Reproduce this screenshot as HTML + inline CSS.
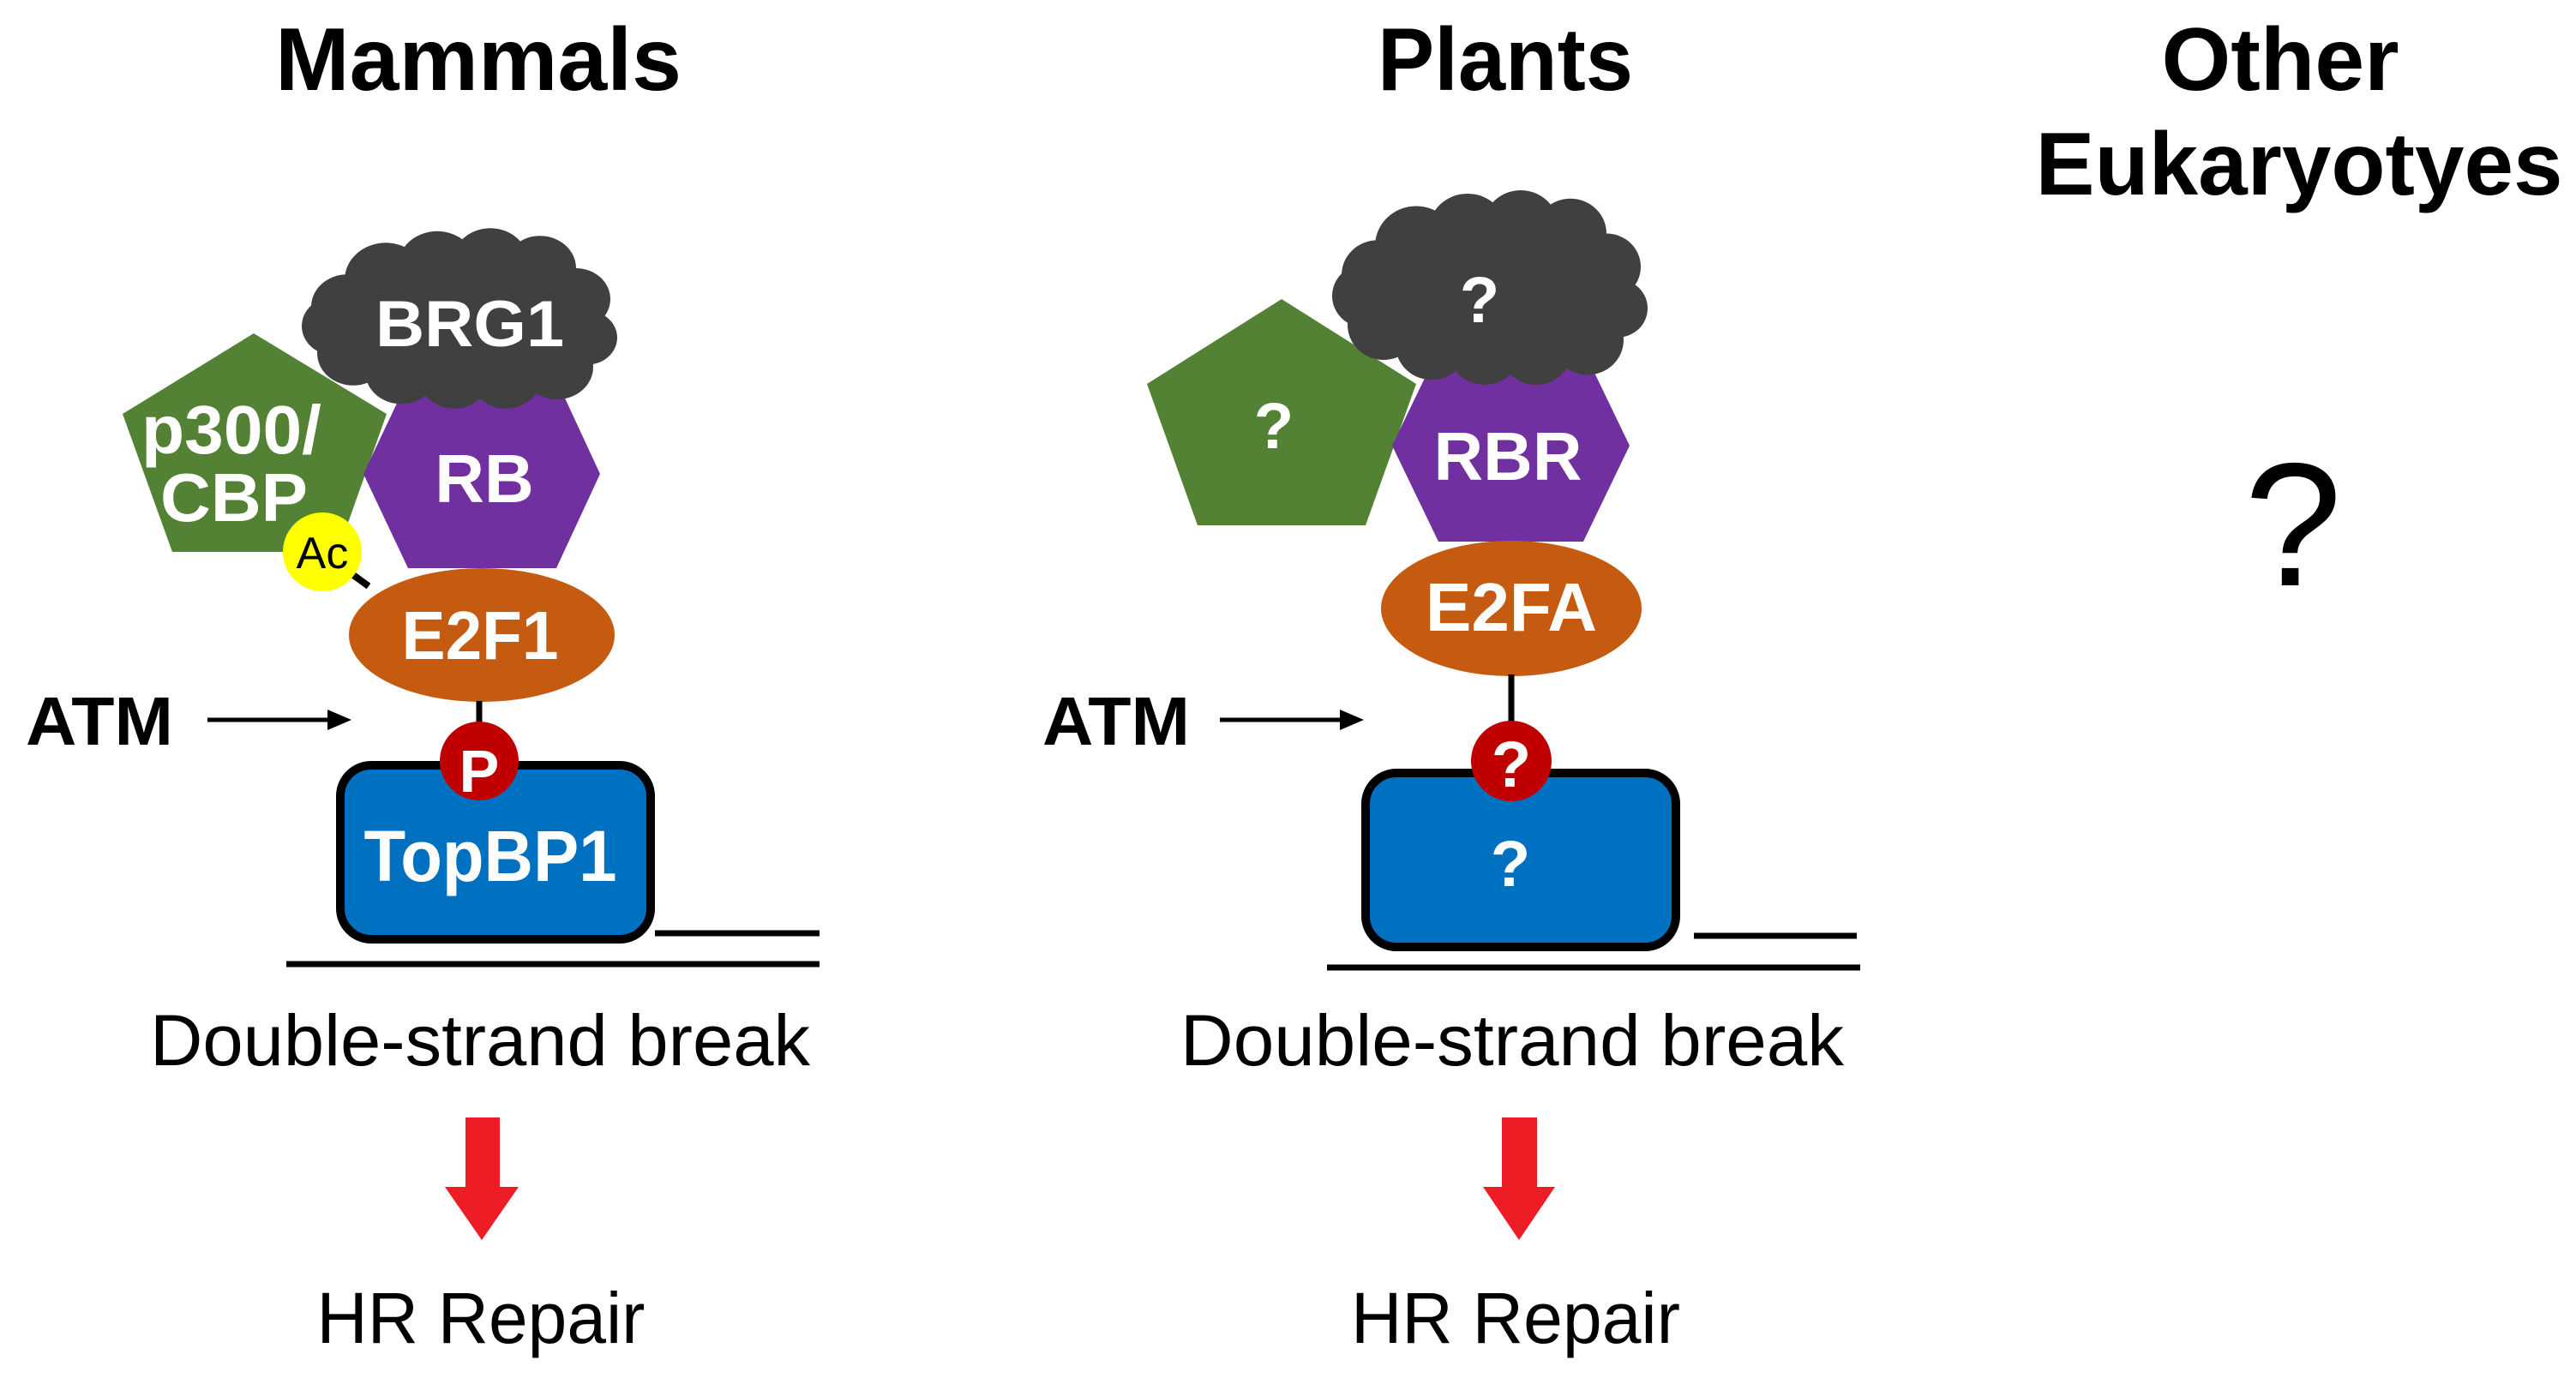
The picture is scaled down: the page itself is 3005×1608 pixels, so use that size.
<!DOCTYPE html>
<html><head><meta charset="utf-8"><style>
html,body{margin:0;padding:0;background:#fff;}
svg{display:block;}
text{font-family:"Liberation Sans",Arial,sans-serif;}
.w{fill:#fff;font-weight:bold;text-anchor:middle;}
</style></head><body>
<svg width="3005" height="1608" viewBox="0 0 3005 1608" xmlns="http://www.w3.org/2000/svg">
<defs>
<g id="cloud" fill="#404040">
 <ellipse cx="185" cy="120" rx="140" ry="75"/>
 <circle cx="55" cy="100" r="42"/>
 <circle cx="100" cy="65" r="48"/>
 <circle cx="160" cy="48" r="46"/>
 <circle cx="222" cy="42" r="44"/>
 <circle cx="280" cy="50" r="42"/>
 <circle cx="322" cy="90" r="40"/>
 <circle cx="335" cy="140" r="35"/>
 <circle cx="300" cy="178" r="42"/>
 <circle cx="240" cy="190" r="42"/>
 <circle cx="180" cy="190" r="42"/>
 <circle cx="118" cy="184" r="42"/>
 <circle cx="62" cy="160" r="42"/>
 <circle cx="40" cy="125" r="38"/>
</g>
</defs>

<text x="558" y="105" font-size="104" font-weight="bold" text-anchor="middle" textLength="474" lengthAdjust="spacingAndGlyphs">Mammals</text>
<text x="1756" y="105" font-size="104" font-weight="bold" text-anchor="middle" textLength="298" lengthAdjust="spacingAndGlyphs">Plants</text>
<text x="2660" y="105" font-size="104" font-weight="bold" text-anchor="middle" textLength="277" lengthAdjust="spacingAndGlyphs">Other</text>
<text x="2682" y="227" font-size="104" font-weight="bold" text-anchor="middle" textLength="615" lengthAdjust="spacingAndGlyphs">Eukaryotyes</text>
<text x="2675" y="683" font-size="205" text-anchor="middle">?</text>

<!-- Mammals -->
<polygon points="296,389 451,483 394,644 201,644 143,483" fill="#548235"/>
<polygon points="476,443 649,443 700,553 649,663 476,663 424,553" fill="#7030A0"/>
<use href="#cloud" transform="translate(350,268) scale(1.0,0.9)"/>
<text class="w" x="548" y="404" font-size="76" textLength="220" lengthAdjust="spacingAndGlyphs">BRG1</text>
<text class="w" x="270" y="529" font-size="80" textLength="210" lengthAdjust="spacingAndGlyphs">p300/</text>
<text class="w" x="273" y="608" font-size="80" textLength="172" lengthAdjust="spacingAndGlyphs">CBP</text>
<text class="w" x="565" y="586" font-size="80">RB</text>
<line x1="390" y1="655" x2="430" y2="684" stroke="#000" stroke-width="8"/>
<ellipse cx="562" cy="741" rx="155" ry="78" fill="#C55A11"/>
<text class="w" x="560" y="769" font-size="80" textLength="183" lengthAdjust="spacingAndGlyphs">E2F1</text>
<circle cx="376" cy="644" r="46" fill="#FFFF00"/>
<text x="376" y="663" font-size="52" text-anchor="middle">Ac</text>
<line x1="559" y1="818" x2="559" y2="860" stroke="#000" stroke-width="7"/>
<rect x="397" y="893" width="362" height="203" rx="36" fill="#0070C0" stroke="#000" stroke-width="10"/>
<circle cx="559" cy="888" r="46" fill="#C00000"/>
<text class="w" x="559" y="924" font-size="70">P</text>
<text class="w" x="572" y="1028" font-size="84" textLength="295" lengthAdjust="spacingAndGlyphs">TopBP1</text>
<line x1="764" y1="1089" x2="956" y2="1089" stroke="#000" stroke-width="7"/>
<line x1="334" y1="1125" x2="956" y2="1125" stroke="#000" stroke-width="7"/>
<text x="116" y="869" font-size="80" font-weight="bold" text-anchor="middle" textLength="172" lengthAdjust="spacingAndGlyphs">ATM</text>
<line x1="242" y1="840" x2="395" y2="840" stroke="#000" stroke-width="5"/>
<polygon points="410,840 382,828 382,852" fill="#000"/>
<text x="560" y="1243" font-size="84" text-anchor="middle" textLength="770" lengthAdjust="spacingAndGlyphs">Double-strand break</text>
<rect x="543" y="1304" width="40" height="82" fill="#EE1C25"/>
<polygon points="519,1385 605,1385 562,1447" fill="#EE1C25"/>
<text x="561" y="1567" font-size="84" text-anchor="middle" textLength="383" lengthAdjust="spacingAndGlyphs">HR Repair</text>

<!-- Plants -->
<polygon points="1495,349 1652,448 1593,613 1397,613 1338,448" fill="#548235"/>
<polygon points="1678,408 1847,408 1901,520 1847,632 1678,632 1624,520" fill="#7030A0"/>
<use href="#cloud" transform="translate(1552,224) scale(1.0,0.97)"/>
<text class="w" x="1726" y="376" font-size="76">?</text>
<text class="w" x="1486" y="523" font-size="76">?</text>
<text class="w" x="1759" y="560" font-size="80" textLength="173" lengthAdjust="spacingAndGlyphs">RBR</text>
<ellipse cx="1763" cy="710" rx="152" ry="79" fill="#C55A11"/>
<text class="w" x="1763" y="736" font-size="80" textLength="200" lengthAdjust="spacingAndGlyphs">E2FA</text>
<line x1="1763" y1="787" x2="1763" y2="850" stroke="#000" stroke-width="7"/>
<rect x="1593" y="902" width="362" height="203" rx="36" fill="#0070C0" stroke="#000" stroke-width="10"/>
<circle cx="1763" cy="888" r="47" fill="#C00000"/>
<text class="w" x="1763" y="918" font-size="76">?</text>
<text class="w" x="1762" y="1034" font-size="76">?</text>
<line x1="1976" y1="1092" x2="2166" y2="1092" stroke="#000" stroke-width="7"/>
<line x1="1548" y1="1129" x2="2170" y2="1129" stroke="#000" stroke-width="7"/>
<text x="1302" y="869" font-size="80" font-weight="bold" text-anchor="middle" textLength="172" lengthAdjust="spacingAndGlyphs">ATM</text>
<line x1="1423" y1="840" x2="1576" y2="840" stroke="#000" stroke-width="5"/>
<polygon points="1591,840 1563,828 1563,852" fill="#000"/>
<text x="1764" y="1243" font-size="84" text-anchor="middle" textLength="774" lengthAdjust="spacingAndGlyphs">Double-strand break</text>
<rect x="1752" y="1304" width="41" height="82" fill="#EE1C25"/>
<polygon points="1730,1385 1814,1385 1772,1447" fill="#EE1C25"/>
<text x="1768" y="1567" font-size="84" text-anchor="middle" textLength="384" lengthAdjust="spacingAndGlyphs">HR Repair</text>
</svg>
</body></html>
